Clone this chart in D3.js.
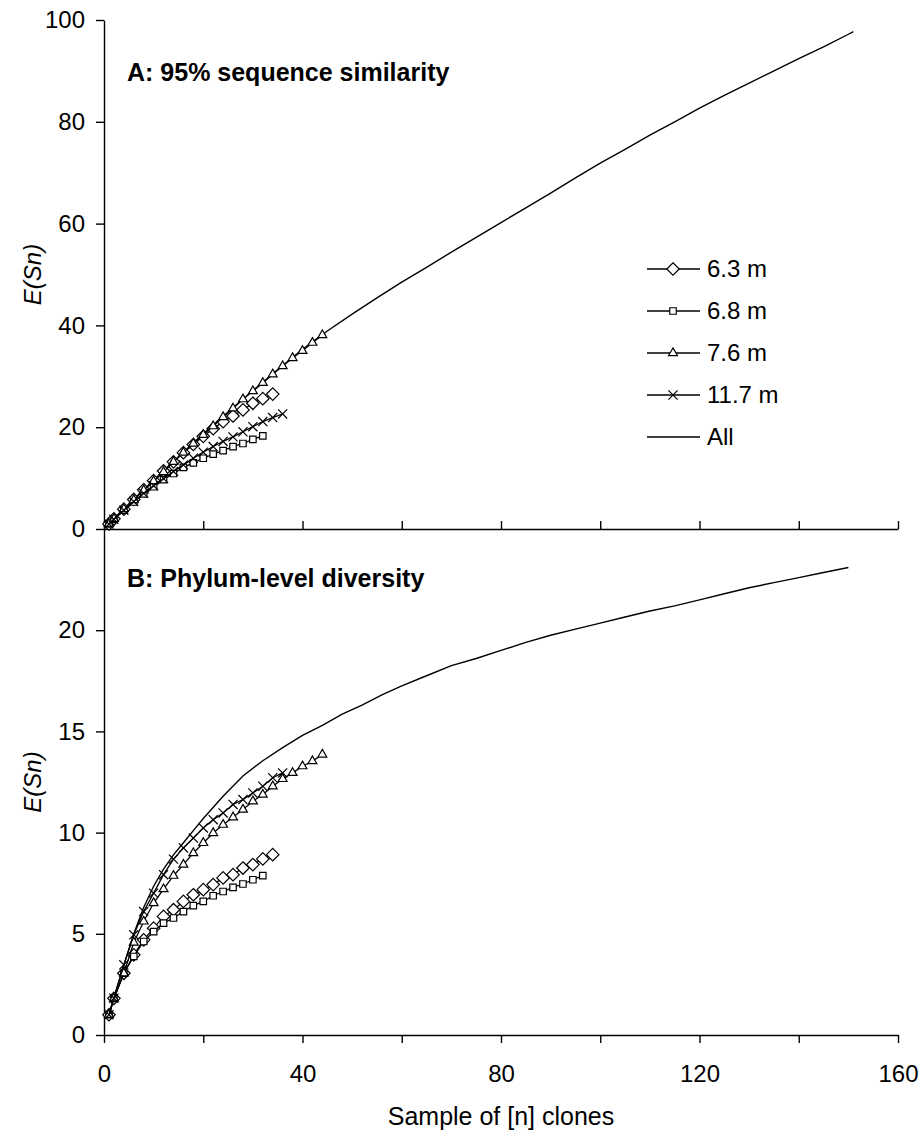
<!DOCTYPE html>
<html>
<head>
<meta charset="utf-8">
<script src="https://cdn.jsdelivr.net/npm/d3@7"></script>
<style>
  body { margin: 0; background: #fff; }
  svg { display: block; font-family: "Liberation Sans", Arial, sans-serif; }
</style>
</head>
<body>
<div id="plotRegi"></div>
<script>
/* Data */
// sample sizes at which the markers sit
var sampleN = [1, 2, 4, 6, 8, 10, 12, 14, 16, 18, 20, 22, 24, 26, 28, 30, 32, 34, 36, 38, 40, 42, 44]

// A: 95% sequence similarity
var a63 = [1, 2.0, 3.9, 5.8, 7.7, 9.5, 11.4, 13.2, 15.0, 16.6, 18.2, 19.7, 21.1, 22.2, 23.4, 24.7, 25.6, 26.5]
var a68 = [1, 1.9, 3.7, 5.3, 6.9, 8.3, 9.7, 10.9, 12.1, 13.0, 13.9, 14.7, 15.4, 16.2, 16.8, 17.6, 18.3]
var a76 = [1, 2.0, 3.9, 5.7, 7.6, 9.4, 11.2, 13.2, 15.0, 16.8, 18.5, 20.2, 22.0, 23.7, 25.5, 27.1, 28.7, 30.4, 32.0, 33.6, 35.0, 36.6, 38.1]
var a117 = [1, 1.9, 3.7, 5.4, 7.0, 8.5, 9.9, 11.3, 12.6, 13.9, 15.1, 16.2, 17.2, 18.1, 19.1, 20.1, 21.1, 21.9, 22.6]
var allNA = [1, 2, 5, 10, 15, 20, 25, 30, 35, 40, 45, 50, 55, 60, 65, 70, 75, 80, 85, 90, 95, 100, 105, 110, 115, 120, 125, 130, 135, 140, 145, 150, 151]
var allA = [1, 2.0, 4.9, 9.6, 14.2, 18.7, 23.0, 27.2, 31.3, 35.3, 38.9, 42.2, 45.4, 48.5, 51.4, 54.4, 57.3, 60.2, 63.1, 66.0, 69.0, 71.9, 74.6, 77.4, 80.0, 82.7, 85.2, 87.6, 90.0, 92.4, 94.7, 97.2, 97.7]

// B: Phylum-level diversity
var b63 = [1, 1.81, 3.05, 3.96, 4.70, 5.28, 5.86, 6.19, 6.60, 6.93, 7.18, 7.43, 7.76, 7.92, 8.25, 8.42, 8.70, 8.91]
var b68 = [1, 1.81, 3.05, 3.88, 4.62, 5.11, 5.53, 5.78, 6.10, 6.39, 6.60, 6.88, 7.09, 7.29, 7.46, 7.67, 7.87]
var b76 = [1, 1.81, 3.05, 4.57, 5.61, 6.52, 7.21, 7.87, 8.42, 8.99, 9.49, 9.98, 10.39, 10.76, 11.14, 11.55, 11.88, 12.29, 12.65, 12.95, 13.28, 13.53, 13.86]
var b117 = [1, 1.82, 3.47, 4.95, 6.10, 7.01, 7.92, 8.69, 9.24, 9.73, 10.23, 10.64, 10.97, 11.39, 11.63, 11.96, 12.29, 12.71, 12.95]
var allNB = [1, 2, 4, 6, 8, 10, 12, 14, 16, 18, 20, 24, 28, 32, 36, 40, 44, 48, 52, 56, 60, 65, 70, 75, 80, 85, 90, 95, 100, 105, 110, 115, 120, 125, 130, 135, 140, 145, 150]
var allB = [1, 1.85, 3.45, 5.0, 6.3, 7.35, 8.2, 8.9, 9.5, 10.1, 10.7, 11.8, 12.8, 13.55, 14.2, 14.8, 15.3, 15.85, 16.3, 16.8, 17.25, 17.75, 18.25, 18.6, 19.0, 19.4, 19.75, 20.05, 20.35, 20.65, 20.95, 21.2, 21.5, 21.8, 22.1, 22.35, 22.6, 22.85, 23.1]

// legend + ticks
var legendNames = ["6.3 m", "6.8 m", "7.6 m", "11.7 m", "All"]
var xTicks = [0, 20, 40, 60, 80, 100, 120, 140, 160]
var yTicksA = [0, 20, 40, 60, 80, 100]
var yTicksB = [0, 5, 10, 15, 20]


/* Setup */
var width = 924, height = 1133
var left = 104, right = 898
var topA = 20, baseA = 529, baseB = 1035

var scale_x = d3.scaleLinear().domain([0, 160]).range([left, right])
var scale_yA = d3.scaleLinear().domain([0, 100]).range([baseA, topA])
var scale_yB = d3.scaleLinear().domain([0, 25]).range([baseB, baseA])

// marker shapes per series
var markers = [
    { sym: d3.symbolDiamond2, size: 100 },
    { sym: d3.symbolSquare, size: 42 },
    { sym: d3.symbolTriangle, size: 34 },
    { sym: d3.symbolTimes, size: 56 },
    null
]

var svg = d3.select("#plotRegi")
    .append("svg")
    .attr("width", width)
    .attr("height", height)

svg.append("rect").attr("width", width).attr("height", height).style("fill", "white")


/* Axes */
function styleAxis(g) {
    g.select(".domain").style("stroke", "#000").style("stroke-width", "1.4px")
    g.selectAll(".tick line").style("stroke", "#000").style("stroke-width", "1.4px")
    g.selectAll(".tick text")
        .style("font-size", "24px")
        .style("fill", "#000")
        .style("font-family", "'Liberation Sans', Arial, sans-serif")
}

svg.append("g")
    .attr("transform", "translate(" + left + ",0)")
    .call(d3.axisLeft(scale_yA).tickValues(yTicksA).tickSize(8).tickSizeOuter(0).tickPadding(11))
    .call(styleAxis)

svg.append("g")
    .attr("transform", "translate(" + left + ",0)")
    .call(d3.axisLeft(scale_yB).tickValues(yTicksB).tickSize(8).tickSizeOuter(0).tickPadding(11))
    .call(styleAxis)

// top panel x axis: ticks inward, no labels
svg.append("g")
    .attr("transform", "translate(0," + baseA + ")")
    .call(d3.axisTop(scale_x).tickValues(xTicks).tickSize(8).tickSizeOuter(0).tickFormat(""))
    .call(styleAxis)

svg.append("g")
    .attr("transform", "translate(0," + baseB + ")")
    .call(d3.axisBottom(scale_x).tickValues(xTicks).tickSize(8).tickSizeOuter(0).tickPadding(22)
        .tickFormat(d => d % 40 === 0 ? d : ""))
    .call(styleAxis)

// axis titles
svg.append("text")
    .attr("x", (left + right) / 2)
    .attr("y", 1125)
    .attr("text-anchor", "middle")
    .style("font-size", "25px")
    .text("Sample of [n] clones")

function yTitle(cy) {
    var t = svg.append("text")
        .attr("transform", "translate(41," + cy + ") rotate(-90)")
        .attr("text-anchor", "middle")
        .style("font-size", "24px")
        .style("font-style", "italic")
    t.append("tspan").text("E(Sn)")
}
yTitle((topA + baseA) / 2)
yTitle((baseA + baseB) / 2)

// panel titles
svg.append("text").attr("x", 127).attr("y", 81)
    .style("font-size", "25px").style("font-weight", "bold")
    .text("A: 95% sequence similarity")

svg.append("text").attr("x", 127).attr("y", 587)
    .style("font-size", "25px").style("font-weight", "bold")
    .text("B: Phylum-level diversity")


/* Series */
function drawPanel(yScale, series, allN, allV) {
    var g = svg.append("g")
    var line = d3.line().x(d => scale_x(d[0])).y(d => yScale(d[1]))

    // All
    g.append("path")
        .datum(allN.map((n, i) => [n, allV[i]]))
        .attr("d", line)
        .style("fill", "none")
        .style("stroke", "#000")
        .style("stroke-width", "1.4px")

    series.forEach(function (vals, k) {
        var pts = vals.map((v, i) => [sampleN[i], v])
        g.append("path")
            .datum(pts)
            .attr("d", line)
            .style("fill", "none")
            .style("stroke", "#000")
            .style("stroke-width", "1.3px")

        g.selectAll("NONE")
            .data(pts)
            .enter()
            .append("path")
            .attr("transform", d => "translate(" + scale_x(d[0]) + "," + yScale(d[1]) + ")")
            .attr("d", d3.symbol().type(markers[k].sym).size(markers[k].size))
            .style("fill", k === 3 ? "none" : "white")
            .style("stroke", "#000")
            .style("stroke-width", "1.2px")
    })
}

drawPanel(scale_yA, [a63, a68, a76, a117], allNA, allA)
drawPanel(scale_yB, [b63, b68, b76, b117], allNB, allB)


/* Legend */
var legend = svg.append("g")
legendNames.forEach(function (name, k) {
    var y = 269 + k * 42
    legend.append("line")
        .attr("x1", 647).attr("x2", 700)
        .attr("y1", y).attr("y2", y)
        .style("stroke", "#000")
        .style("stroke-width", "1.3px")
    if (markers[k]) {
        legend.append("path")
            .attr("transform", "translate(673," + y + ")")
            .attr("d", d3.symbol().type(markers[k].sym).size(markers[k].size))
            .style("fill", k === 3 ? "none" : "white")
            .style("stroke", "#000")
            .style("stroke-width", "1.2px")
    }
    legend.append("text")
        .attr("x", 707)
        .attr("y", y + 8)
        .style("font-size", "24px")
        .text(name)
})
</script>
</body>
</html>
